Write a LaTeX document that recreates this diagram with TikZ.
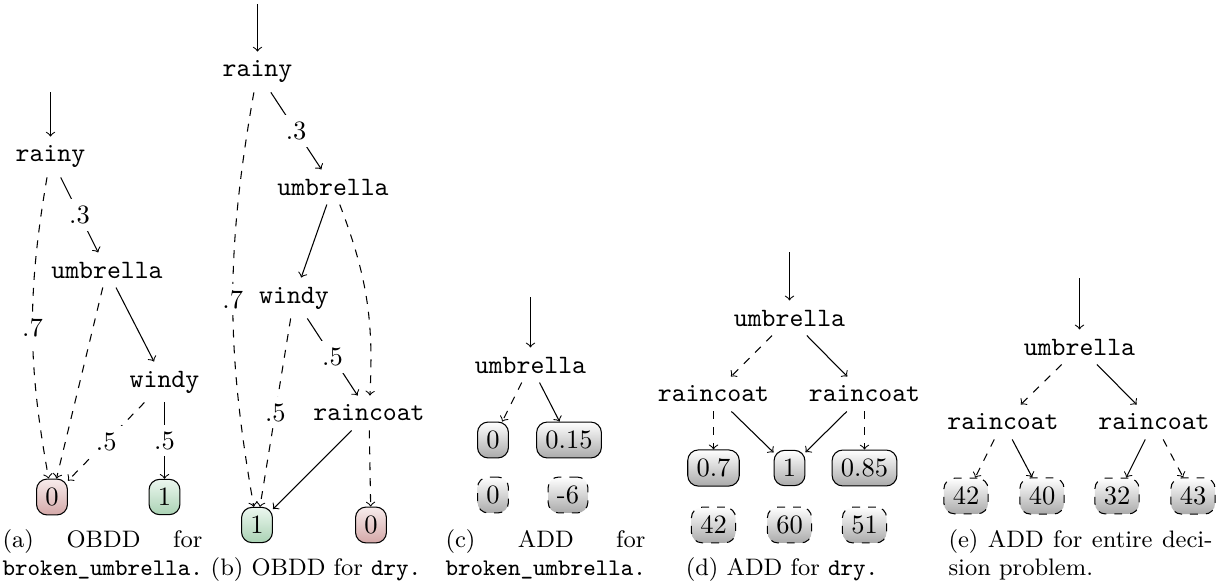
\documentclass[tikz,border=0pt]{standalone}
\definecolor{zerotop}{RGB}{248,236,236}
\definecolor{zerobot}{RGB}{212,168,168}
\definecolor{onetop}{RGB}{236,247,239}
\definecolor{onebot}{RGB}{170,210,180}
\definecolor{addbot}{RGB}{170,170,170}
\begin{document}
\begin{tikzpicture}[x=0.37736pt, y=-0.37736pt,
  var/.style={font=\ttfamily},
  leaf/.style={draw, rounded corners=4pt},
  zeroleaf/.style={leaf, top color=zerotop, bottom color=zerobot},
  oneleaf/.style={leaf, top color=onetop, bottom color=onebot},
  addleaf/.style={leaf, top color=white, bottom color=addbot},
  utilleaf/.style={addleaf, dashed},
  hiedge/.style={->},
  loedge/.style={->, dashed},
  lbl/.style={fill=white, inner sep=2.5pt},
  captext/.style={font=\small, inner sep=0pt, anchor=base west},
  captextc/.style={font=\small, inner sep=0pt, anchor=base},
]
\useasboundingbox (0,0) rectangle (1222,586);

% (a) OBDD for broken_umbrella
\coordinate (ta) at (50.5,92);
\node[var] (arainy) at (50.5,157) {rainy};
\node[var] (aumb) at (107,270) {umbrella};
\node[var] (awindy) at (164.5,382) {windy};
\node[zeroleaf] (azero) at (52,497) {0};
\node[oneleaf] (aone) at (164.5,497) {1};
\draw[hiedge] (ta) -- (arainy);
\draw[hiedge] (arainy) -- node[lbl]{.3} (aumb);
\draw[loedge] (arainy) to[bend right=10] node[lbl]{.7} (azero);
\draw[loedge] (aumb) -- (azero);
\draw[hiedge] (aumb) -- (awindy);
\draw[loedge] (awindy) -- node[lbl]{.5} (azero);
\draw[hiedge] (awindy) -- node[lbl]{.5} (aone);

% (b) OBDD for dry
\coordinate (tb) at (257.5,4);
\node[var] (brainy) at (257.5,72) {rainy};
\node[var] (bumb) at (333,187) {umbrella};
\node[var] (bwindy) at (294,298) {windy};
\node[var] (brc) at (369,413) {raincoat};
\node[oneleaf] (bone) at (257,525) {1};
\node[zeroleaf] (bzero) at (371,525) {0};
\draw[hiedge] (tb) -- (brainy);
\draw[hiedge] (brainy) -- node[lbl]{.3} (bumb);
\draw[loedge] (brainy) to[bend right=10] node[lbl]{.7} (bone);
\draw[hiedge] (bumb) -- (bwindy);
\draw[loedge] (bumb) to[bend left=12] (brc);
\draw[hiedge] (bwindy) -- node[lbl]{.5} (brc);
\draw[loedge] (bwindy) -- node[lbl]{.5} (bone);
\draw[hiedge] (brc) -- (bone);
\draw[loedge] (brc) -- (bzero);

% (c) ADD for broken_umbrella
\coordinate (tc) at (530.5,297);
\node[var] (cumb) at (530.5,365) {umbrella};
\node[addleaf] (czero) at (493,440) {0};
\node[addleaf] (cval) at (569,440) {0.15};
\node[utilleaf] (cuzero) at (493,495) {0};
\node[utilleaf] (cuneg) at (568,495) {-6};
\draw[hiedge] (tc) -- (cumb);
\draw[loedge] (cumb) -- (czero);
\draw[hiedge] (cumb) -- (cval);

% (d) ADD for dry
\coordinate (td) at (789.5,252);
\node[var] (dumb) at (789.5,318) {umbrella};
\node[var] (drcl) at (713.5,394) {raincoat};
\node[var] (drcr) at (864.5,394) {raincoat};
\node[addleaf] (dlow) at (713.5,468) {0.7};
\node[addleaf] (done) at (789.5,468) {1};
\node[addleaf] (dmid) at (864.5,468) {0.85};
\node[utilleaf] (dua) at (713.5,525) {42};
\node[utilleaf] (dub) at (789.5,525) {60};
\node[utilleaf] (duc) at (864.5,525) {51};
\draw[hiedge] (td) -- (dumb);
\draw[loedge] (dumb) -- (drcl);
\draw[hiedge] (dumb) -- (drcr);
\draw[loedge] (drcl) -- (dlow);
\draw[hiedge] (drcl) -- (done);
\draw[hiedge] (drcr) -- (done);
\draw[loedge] (drcr) -- (dmid);

% (e) ADD for the entire decision problem
\coordinate (te) at (1079.5,278);
\node[var] (eumb) at (1079.5,347) {umbrella};
\node[var] (ercl) at (1003,422) {raincoat};
\node[var] (ercr) at (1154,422) {raincoat};
\node[utilleaf] (ea) at (966,496) {42};
\node[utilleaf] (eb) at (1042,496) {40};
\node[utilleaf] (ec) at (1117,496) {32};
\node[utilleaf] (ed) at (1193,496) {43};
\draw[hiedge] (te) -- (eumb);
\draw[loedge] (eumb) -- (ercl);
\draw[hiedge] (eumb) -- (ercr);
\draw[loedge] (ercl) -- (ea);
\draw[hiedge] (ercl) -- (eb);
\draw[hiedge] (ercr) -- (ec);
\draw[loedge] (ercr) -- (ed);

% sub-captions
\node[captext] (capa1) at (2,547) {\makebox[75.5pt][s]{(a) OBDD for}};
\node[captext] (capa2) at (2,575) {\texttt{broken\_umbrella.}};
\node[captextc] (capb) at (316,575) {(b) OBDD for \texttt{dry.}};
\node[captext] (capc1) at (445,547) {\makebox[75.5pt][s]{(c) ADD for}};
\node[captext] (capc2) at (445,575) {\texttt{broken\_umbrella.}};
\node[captextc] (capd) at (782,575) {(d) ADD for \texttt{dry.}};
\node[captext] (cape1) at (948,547) {\makebox[99.6pt][s]{(e) ADD for entire deci-}};
\node[captext] (cape2) at (948,575) {sion problem.};
\end{tikzpicture}
\end{document}
